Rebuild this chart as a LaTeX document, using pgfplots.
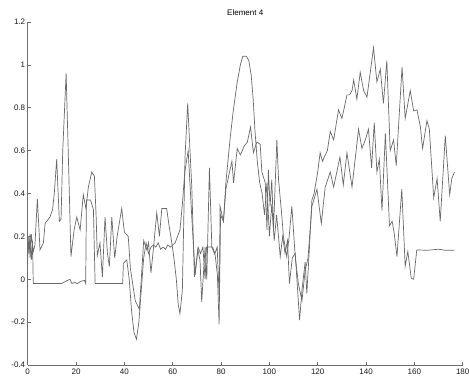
\documentclass[border=0pt]{standalone}
\usepackage{pgfplots}
\pgfplotsset{compat=1.18}
\usepackage{fontspec}
\setmainfont{Liberation Sans}
\definecolor{ln}{RGB}{105,105,105}
\definecolor{ax}{RGB}{110,110,110}
\begin{document}
\begin{tikzpicture}
\begin{axis}[name=ax,
  scale only axis, width=435pt, height=343pt,
  xmin=0, xmax=180, ymin=-0.4, ymax=1.2,
  axis x line*=bottom, axis y line*=left,
  axis line style={ax, line width=0.7pt},
  xtick={0,20,...,180}, ytick={-0.4,-0.2,0,0.2,0.4,0.6,0.8,1,1.2},
  tick align=inside, major tick length=3pt,
  tick style={ax, line width=0.6pt},
  /pgf/number format/assume math mode=true,
  yticklabel style={/pgf/number format/fixed, font=\fontsize{8}{9}\selectfont, text=black!90, xshift=1pt},
  xticklabel style={font=\fontsize{8}{9}\selectfont, text=black!90},
  title={Element 4}, title style={font=\fontsize{8}{9}\selectfont, yshift=-3pt},
]
\addplot[ln, line width=0.7pt] coordinates {
(0,0.10)(0.5,0.20)(1,0.10)(1.5,0.21)(2.3,0.13)(3,0.16)(4,0.375)(5.1,0.137)(6.5,0.17)(7.2,0.26)
(9.2,0.29)(10.3,0.325)(11,0.40)(12,0.56)(13.1,0.27)(13.8,0.28)(14.5,0.60)(15.9,0.96)(17,0.50)(17.9,0.106)
(19.2,0.23)(20.3,0.29)(21.7,0.23)(23,0.395)(24.1,0.33)(25.1,0.43)(26.5,0.50)(27.6,0.48)(28.3,0.30)(28.8,0.11)
(29.9,0.17)(30.9,0.01)(32,0.29)(33,0.12)(33.8,0.06)(34.8,0.29)(36,0.10)(37,0.20)(38.9,0.33)(40,0.22)
(41.6,0.20)(42.5,0.05)(44.5,-0.10)(46.2,-0.14)(47,0.00)(48,0.18)(49.3,0.137)(50,0.17)(51,0.03)(52,0.14)
(53.4,0.31)(54.5,0.20)(55.5,0.33)(57.5,0.33)(58.5,0.25)(59.5,0.18)(60.5,0.10)(61.5,0.00)(62.3,-0.12)(63,-0.16)
(64,-0.05)(65.1,0.57)(66.2,0.82)(67.9,0.43)(69,0.01)(70.4,0.137)(71.3,0.09)(72,-0.105)(73.4,0.15)(74.1,0.00)
(75.2,0.52)(76.2,0.15)(77.6,0.11)(78.5,0.02)(79.2,-0.21)(79.8,0.30)(81,0.27)(82,0.45)(83.8,0.66)(85,0.78)
(86.7,0.92)(88,1.00)(89,1.04)(90.5,1.04)(91.5,1.02)(92.5,0.95)(93.3,0.84)(94,0.70)(95,0.55)(96,0.45)
(97,0.40)(98,0.30)(99,0.45)(100,0.20)(101,0.35)(102,0.18)(103,0.30)(104.5,0.106)(105.5,0.20)(106.5,0.12)
(107.5,0.18)(108.3,-0.02)(109.5,0.10)(110.7,0.12)(112.5,-0.19)(113.5,-0.05)(114.8,0.08)(115.5,-0.066)(116.5,0.13)(117.6,0.37)
(118.5,0.40)(120,0.50)(121,0.59)(122,0.55)(123.1,0.58)(124,0.60)(125.2,0.69)(126.6,0.65)(128.6,0.79)(130,0.75)
(131,0.80)(132.1,0.86)(133.2,0.86)(134.2,0.88)(134.9,0.93)(136.2,0.84)(137.6,0.965)(139,0.88)(140.4,0.85)(143.1,1.08)
(144.5,0.92)(145.9,0.98)(147.2,0.82)(148.6,1.02)(150,0.60)(151.4,0.65)(152.5,0.53)(154.9,0.99)(156.2,0.75)(158.3,0.88)
(159.7,0.785)(161.1,0.79)(162.5,0.71)(163.4,0.61)(165.2,0.74)(166.2,0.70)(168,0.38)(169.4,0.47)(170.7,0.27)(172.8,0.67)
(174.6,0.395)(175.5,0.47)(176.6,0.50)
};
\addplot[ln, line width=0.7pt] coordinates {
(0,0.20)(0.5,0.12)(1,0.21)(1.5,0.09)(2,0.18)(2.3,-0.02)(14,-0.02)(16.5,-0.005)(17.5,0.00)(18.3,-0.02)
(19.5,-0.015)(20.5,-0.02)(22,-0.01)(23.5,-0.005)(24,-0.02)(24.3,0.37)(26,0.37)(27.2,0.325)(27.9,-0.02)(39.3,-0.02)
(39.6,0.075)(41,0.09)(42,0.00)(43,-0.15)(44,-0.25)(45,-0.28)(46,-0.20)(47,-0.05)(48,0.10)(49,0.17)
(50,0.12)(51,0.15)(52,0.16)(53,0.15)(54,0.17)(55,0.14)(56,0.15)(57,0.14)(58,0.16)(59,0.15)
(60,0.16)(61,0.17)(62,0.20)(63,0.23)(64,0.35)(65,0.50)(66.4,0.60)(67.9,0.29)(69.3,0.02)(70.5,0.15)
(71.5,0.12)(72.5,0.15)(73.4,0.00)(74,0.15)(76.5,0.15)(77.5,0.12)(78.4,0.15)(79.3,-0.10)(79.6,0.34)(81,0.27)
(82,0.42)(83.5,0.50)(84.5,0.55)(85.2,0.45)(86.7,0.61)(88,0.58)(88.8,0.60)(89.5,0.62)(90.9,0.64)(92.2,0.71)
(93.4,0.59)(94.8,0.64)(96.2,0.63)(96.9,0.50)(98.3,0.45)(99,0.23)(99.6,0.51)(100.3,0.34)(101,0.465)(101.7,0.23)
(103.1,0.65)(103.8,0.465)(105.2,0.29)(105.8,0.20)(107.2,0.106)(108.2,0.20)(109.3,0.34)(110.7,0.106)(112,-0.02)(113.5,-0.10)
(114.8,0.04)(116,0.10)(117.6,0.34)(119.7,0.42)(121.5,0.26)(123.1,0.43)(125.2,0.50)(126.6,0.43)(129.2,0.57)(130.6,0.44)
(132.1,0.59)(134.2,0.43)(136.9,0.70)(138.3,0.61)(139.7,0.65)(141,0.70)(142.3,0.52)(143.4,0.73)(144.5,0.50)(145.5,0.56)
(146.6,0.32)(148,0.68)(149.7,0.25)(150.8,0.27)(151.6,0.22)(152.8,0.106)(154.8,0.42)(156.2,0.06)(157.3,0.13)(158.7,0.005)
(159.7,0.00)(161,0.137)(165,0.135)(170,0.14)(173,0.135)(176.6,0.135)
};
\end{axis}
\pgfresetboundingbox
\path (ax.south west) ++(-27.7pt,-16pt) rectangle ++(469pt,381pt);
\end{tikzpicture}
\end{document}
